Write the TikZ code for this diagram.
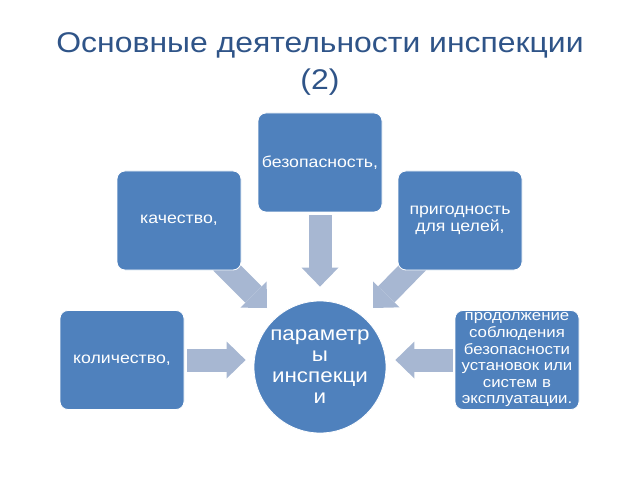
\documentclass[tikz,border=0pt]{standalone}
\usepackage{fontspec}
\setmainfont{Liberation Sans}[FakeStretch=1.12]
\usetikzlibrary{arrows.meta,calc,backgrounds}
\definecolor{boxblue}{RGB}{79,129,189}
\definecolor{arrowblue}{RGB}{167,183,210}
\definecolor{titleblue}{RGB}{47,84,136}

\begin{document}
\begin{tikzpicture}[
		x=1pt, y=1pt,
		every node/.style={text=white, align=center, font=\fontsize{15.8}{17.5}\selectfont},
		param/.style={rectangle, rounded corners=8pt, fill=boxblue, draw=white, line width=0.8pt, minimum width=124pt, minimum height=99pt, inner sep=0pt},
		centre/.style={circle, fill=boxblue, draw=white, line width=0.8pt, minimum size=132pt, inner sep=0pt, font=\fontsize{20}{21}\selectfont},
		flow/.style={arrowblue, line width=23pt, -{Triangle[width=37pt, length=19pt, line width=0pt]}}
	]
  \useasboundingbox (0,0) rectangle (640,480);
  \node (title) [anchor=north, inner sep=0pt, text=titleblue, font=\fontsize{28.5}{37}\selectfont] at (320,448) {Основные деятельности инспекции\\(2)};
  \node (par) [centre] at (320,113) {параметр\\ы\\инспекци\\и};
  \node (kol) [param] at (122,120) {количество,};
  \node (kach) [param] at (179,259.5) {качество,};
  \node (bez) [param] at (320,317.5) {безопасность,};
  \node (prig) [param] at (460,259.5) {пригодность\\для целей,};
  \node (prod) [param, font=\fontsize{15}{16.6}\selectfont] at (517,120) {продолжение\\соблюдения\\безопасности\\установок или\\систем в\\эксплуатации.};
  \begin{scope}[on background layer]
    \draw[flow, shorten <=3pt, shorten >=8pt] (kol) -- (kol -| par.west);
    \draw[flow, shorten <=2pt, shorten >=9pt] (prod) -- (prod -| par.east);
    \draw[flow, shorten <=3pt, shorten >=14pt] (bez) -- (par.north);
    \draw[flow] ($(kach.south east)+(-20,8)$) -- ($(par.center)+(-53,59)$);
    \draw[flow] ($(prig.south west)+(20,8)$) -- ($(par.center)+(53,59)$);
  \end{scope}
\end{tikzpicture}
\end{document}
